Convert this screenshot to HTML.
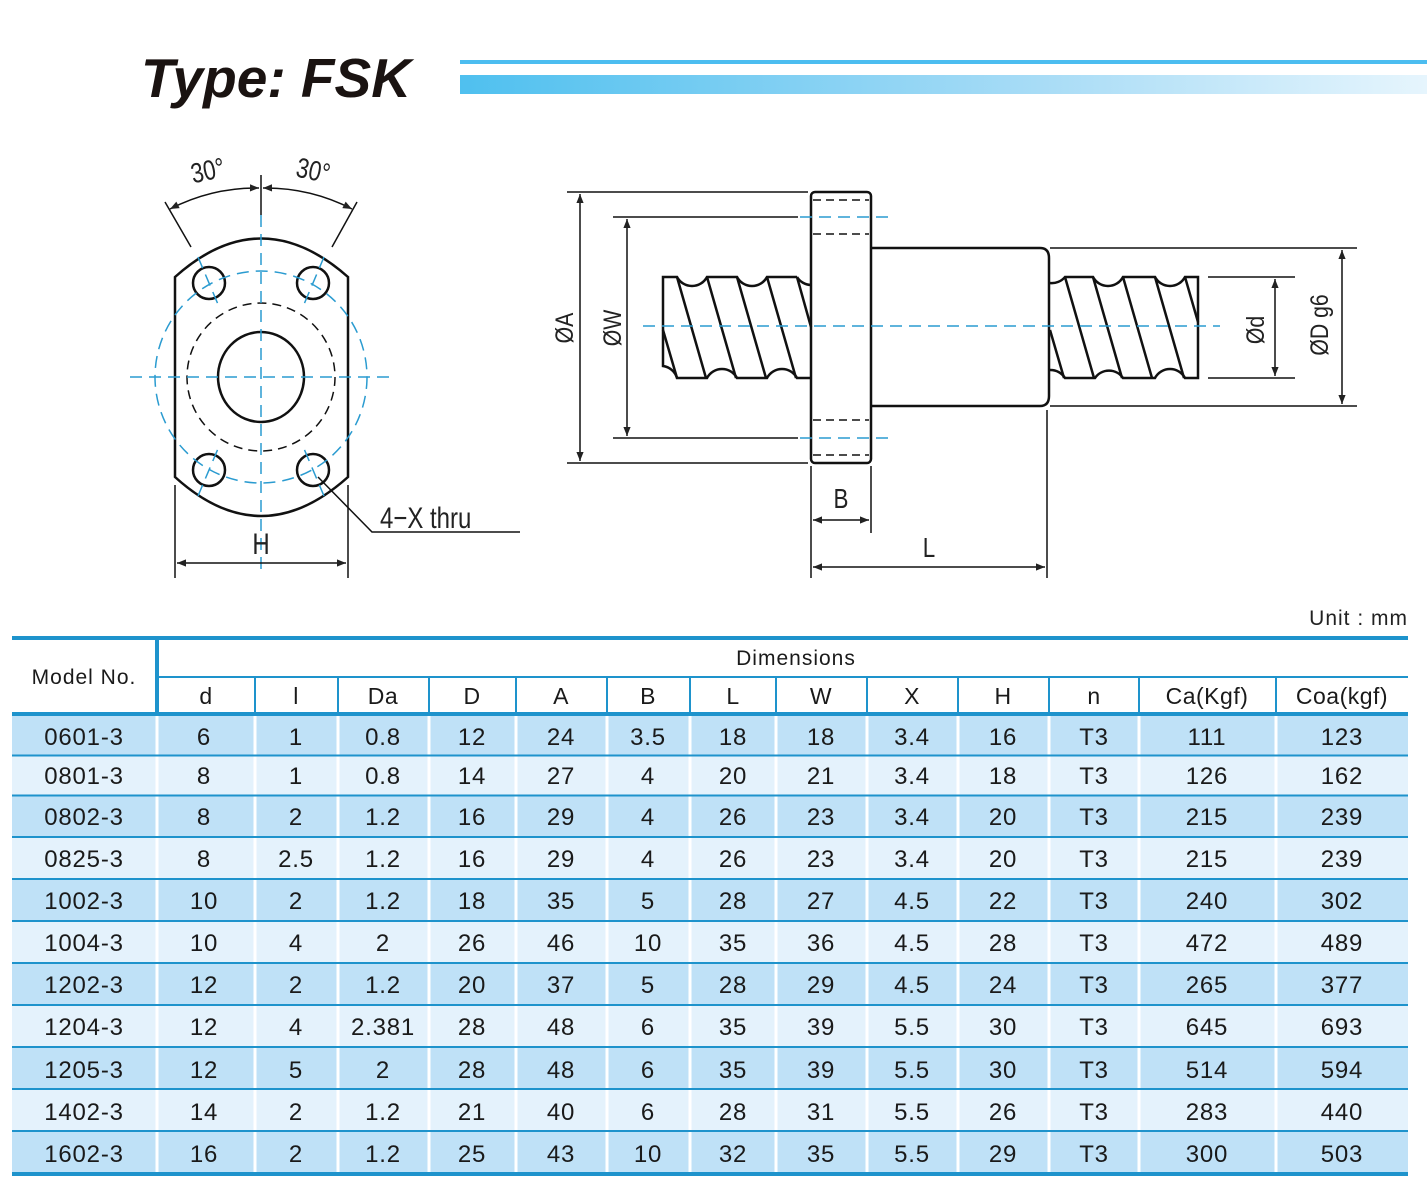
<!DOCTYPE html>
<html><head><meta charset="utf-8"><style>
html,body{margin:0;padding:0;background:#fff;}
svg{display:block;}
</style></head><body>
<svg width="1427" height="1200" viewBox="0 0 1427 1200" xmlns="http://www.w3.org/2000/svg" font-family="Liberation Sans, Arial, sans-serif">
<defs>
<linearGradient id="g" x1="0" x2="1" y1="0" y2="0"><stop offset="0" stop-color="#4fc0ef"/><stop offset="0.6" stop-color="#a8dcf6"/><stop offset="1" stop-color="#e6f5fd"/></linearGradient>
<marker id="ar" viewBox="0 0 10 10" refX="10" refY="5" markerWidth="14" markerHeight="9" markerUnits="userSpaceOnUse" orient="auto-start-reverse"><path d="M0,1 L10,5 L0,9 z" fill="#222"/></marker>
</defs>
<!-- title -->
<text x="141" y="97" font-size="55" font-weight="bold" font-style="italic" fill="#1a1311">Type: FSK</text>
<rect x="460" y="60" width="967" height="4" fill="#4cbdf0"/>
<rect x="460" y="75" width="967" height="19" fill="url(#g)"/>

<!-- LEFT VIEW -->
<g fill="none" stroke="#111" stroke-width="2.5">
<path d="M175,277 Q261,200 348,277 L348,477 Q261,555 175,477 Z"/>
<circle cx="209" cy="283" r="16"/><circle cx="313" cy="283" r="16"/>
<circle cx="209" cy="470" r="16"/><circle cx="313" cy="470" r="16"/>
<ellipse cx="261" cy="377" rx="43" ry="45"/>
</g>
<circle cx="261" cy="377" r="74" fill="none" stroke="#111" stroke-width="1.5" stroke-dasharray="9,6"/>
<g stroke="#2a9bd0" stroke-width="1.5" fill="none" stroke-dasharray="12,7">
<circle cx="261" cy="377" r="106"/>
<line x1="130" y1="377" x2="392" y2="377"/>
<line x1="261" y1="215" x2="261" y2="570"/>
<line x1="198" y1="257" x2="220" y2="309"/><line x1="324" y1="257" x2="302" y2="309"/>
<line x1="198" y1="496" x2="220" y2="444"/><line x1="324" y1="496" x2="302" y2="444"/>
</g>
<g stroke="#111" stroke-width="1.5" fill="none">
<line x1="261" y1="175" x2="261" y2="215"/>
<line x1="165" y1="202" x2="191" y2="247"/>
<line x1="357" y1="202" x2="332" y2="247"/>
<path d="M259,188 A189,189 0 0 0 170,209" marker-start="url(#ar)" marker-end="url(#ar)"/>
<path d="M263,188 A189,189 0 0 1 352,209" marker-start="url(#ar)" marker-end="url(#ar)"/>
<line x1="175" y1="485" x2="175" y2="578"/><line x1="348" y1="485" x2="348" y2="578"/>
<line x1="177" y1="563" x2="346" y2="563" marker-start="url(#ar)" marker-end="url(#ar)"/>
<polyline points="318,477 372,532 520,532"/>
</g>
<text x="208" y="180" font-size="28" fill="#222" text-anchor="middle" transform="rotate(-12 208 172) translate(208 0) scale(0.8 1) translate(-208 0)">30°</text>
<text x="313" y="180" font-size="28" fill="#222" text-anchor="middle" transform="rotate(12 313 172) translate(313 0) scale(0.8 1) translate(-313 0)">30°</text>
<text x="261" y="554" font-size="30" fill="#222" text-anchor="middle" transform="translate(261 0) scale(0.8 1) translate(-261 0)">H</text>
<text x="380" y="528" font-size="30" fill="#222" transform="translate(380 0) scale(0.8 1) translate(-380 0)">4−X thru</text>

<!-- RIGHT VIEW -->
<g stroke="#111" stroke-width="1.5" fill="none">
<line x1="567" y1="192" x2="808" y2="192"/><line x1="567" y1="463" x2="808" y2="463"/>
<line x1="580" y1="194" x2="580" y2="461" marker-start="url(#ar)" marker-end="url(#ar)"/>
<line x1="613" y1="217" x2="798" y2="217"/><line x1="613" y1="438" x2="798" y2="438"/>
<line x1="627" y1="219" x2="627" y2="436" marker-start="url(#ar)" marker-end="url(#ar)"/>
<line x1="1050" y1="248" x2="1357" y2="248"/><line x1="1050" y1="406" x2="1357" y2="406"/>
<line x1="1342" y1="250" x2="1342" y2="404" marker-start="url(#ar)" marker-end="url(#ar)"/>
<line x1="1208" y1="277" x2="1295" y2="277"/><line x1="1208" y1="378" x2="1295" y2="378"/>
<line x1="1275" y1="279" x2="1275" y2="376" marker-start="url(#ar)" marker-end="url(#ar)"/>
<line x1="811" y1="466" x2="811" y2="578"/><line x1="871" y1="466" x2="871" y2="533"/>
<line x1="813" y1="520" x2="869" y2="520" marker-start="url(#ar)" marker-end="url(#ar)"/>
<line x1="1047" y1="410" x2="1047" y2="578"/>
<line x1="813" y1="567" x2="1045" y2="567" marker-start="url(#ar)" marker-end="url(#ar)"/>
</g>
<g stroke="#111" stroke-width="2.5" fill="none">
<rect x="811" y="192" width="60" height="271" rx="4"/>
<path d="M871,248 H1040 Q1049,248 1049,258 V396 Q1049,406 1040,406 H871"/>
<!-- left screw -->
<path d="M797,277 A17,17 0 0 0 811,285"/>
<path d="M797,277 H767 A17,17 0 0 1 737,277 H707 A17,17 0 0 1 677,277 H663 V366 A17,17 0 0 1 677,378 H707 A17,17 0 0 1 737,378 H767 A17,17 0 0 1 797,378 H811"/>
<line x1="677" y1="277" x2="706" y2="378"/><line x1="707" y1="277" x2="736" y2="378"/>
<line x1="737" y1="277" x2="766" y2="378"/><line x1="767" y1="277" x2="796" y2="378"/>
<line x1="797" y1="277" x2="811" y2="327"/><line x1="663" y1="330" x2="677" y2="378"/>
<!-- right screw -->
<path d="M1050,283 A17,17 0 0 0 1065,277 H1093 A17,17 0 0 0 1123,277 H1155 A17,17 0 0 0 1185,277 H1198 V378 H1185 A17,17 0 0 0 1155,378 H1123 A17,17 0 0 0 1095,378 H1065 A17,17 0 0 0 1050,370"/>
<line x1="1065" y1="277" x2="1094" y2="378"/><line x1="1093" y1="277" x2="1122" y2="378"/>
<line x1="1123" y1="277" x2="1152" y2="378"/><line x1="1155" y1="277" x2="1184" y2="378"/>
<line x1="1185" y1="277" x2="1198" y2="322"/><line x1="1050" y1="330" x2="1064" y2="378"/>
</g>
<g stroke="#111" stroke-width="1.5" stroke-dasharray="8,5">
<line x1="813" y1="200" x2="869" y2="200"/><line x1="813" y1="234" x2="869" y2="234"/>
<line x1="813" y1="420" x2="869" y2="420"/><line x1="813" y1="455" x2="869" y2="455"/>
</g>
<g stroke="#2a9bd0" stroke-width="1.5" stroke-dasharray="12,7">
<line x1="800" y1="217" x2="888" y2="217"/><line x1="800" y1="438" x2="888" y2="438"/>
<line x1="643" y1="326" x2="1220" y2="326"/>
</g>
<g font-size="25" fill="#222" text-anchor="middle">
<text transform="translate(573 328) rotate(-90) scale(0.85 1)">ØA</text>
<text transform="translate(621 328) rotate(-90) scale(0.85 1)">ØW</text>
<text transform="translate(1264 330) rotate(-90) scale(0.85 1)">Ød</text>
<text transform="translate(1328 325) rotate(-90) scale(0.85 1)">ØD g6</text>
<text x="841" y="508" font-size="28" transform="translate(841 0) scale(0.8 1) translate(-841 0)">B</text>
<text x="929" y="557" font-size="28" transform="translate(929 0) scale(0.8 1) translate(-929 0)">L</text>
</g>

<!-- TABLE -->
<text x="1408" y="625" font-size="21" fill="#222" text-anchor="end" letter-spacing="1">Unit : mm</text>
<rect x="12" y="716" width="1396" height="39" fill="#bfe1f7"/>
<rect x="12" y="756" width="1396" height="39" fill="#e4f2fc"/>
<rect x="12" y="796" width="1396" height="40" fill="#bfe1f7"/>
<rect x="12" y="838" width="1396" height="40" fill="#e4f2fc"/>
<rect x="12" y="880" width="1396" height="40" fill="#bfe1f7"/>
<rect x="12" y="922" width="1396" height="40" fill="#e4f2fc"/>
<rect x="12" y="964" width="1396" height="40" fill="#bfe1f7"/>
<rect x="12" y="1006" width="1396" height="40" fill="#e4f2fc"/>
<rect x="12" y="1048" width="1396" height="40" fill="#bfe1f7"/>
<rect x="12" y="1090" width="1396" height="40" fill="#e4f2fc"/>
<rect x="12" y="1132" width="1396" height="40" fill="#bfe1f7"/>
<g stroke="#fff" stroke-width="3">
<line x1="157" y1="716" x2="157" y2="1172"/><line x1="255" y1="716" x2="255" y2="1172"/>
<line x1="338" y1="716" x2="338" y2="1172"/><line x1="429" y1="716" x2="429" y2="1172"/>
<line x1="516" y1="716" x2="516" y2="1172"/><line x1="607" y1="716" x2="607" y2="1172"/>
<line x1="690" y1="716" x2="690" y2="1172"/><line x1="776" y1="716" x2="776" y2="1172"/>
<line x1="867" y1="716" x2="867" y2="1172"/><line x1="958" y1="716" x2="958" y2="1172"/>
<line x1="1049" y1="716" x2="1049" y2="1172"/><line x1="1139" y1="716" x2="1139" y2="1172"/>
<line x1="1276" y1="716" x2="1276" y2="1172"/>
</g>
<g stroke="#1e93cc">
<line x1="12" y1="638" x2="1408" y2="638" stroke-width="4"/>
<line x1="157" y1="677" x2="1408" y2="677" stroke-width="2"/>
<line x1="12" y1="714" x2="1408" y2="714" stroke-width="4"/>
<line x1="157" y1="640" x2="157" y2="714" stroke-width="4"/>
<g stroke-width="2">
<line x1="255" y1="677" x2="255" y2="713"/><line x1="338" y1="677" x2="338" y2="713"/>
<line x1="429" y1="677" x2="429" y2="713"/><line x1="516" y1="677" x2="516" y2="713"/>
<line x1="607" y1="677" x2="607" y2="713"/><line x1="690" y1="677" x2="690" y2="713"/>
<line x1="776" y1="677" x2="776" y2="713"/><line x1="867" y1="677" x2="867" y2="713"/>
<line x1="958" y1="677" x2="958" y2="713"/><line x1="1049" y1="677" x2="1049" y2="713"/>
<line x1="1139" y1="677" x2="1139" y2="713"/><line x1="1276" y1="677" x2="1276" y2="713"/>
<line x1="12" y1="755.5" x2="1408" y2="755.5"/><line x1="12" y1="795.5" x2="1408" y2="795.5"/>
<line x1="12" y1="837" x2="1408" y2="837"/><line x1="12" y1="879" x2="1408" y2="879"/>
<line x1="12" y1="921" x2="1408" y2="921"/><line x1="12" y1="963" x2="1408" y2="963"/>
<line x1="12" y1="1005" x2="1408" y2="1005"/><line x1="12" y1="1047" x2="1408" y2="1047"/>
<line x1="12" y1="1089" x2="1408" y2="1089"/><line x1="12" y1="1131" x2="1408" y2="1131"/>
</g>
<line x1="12" y1="1174" x2="1408" y2="1174" stroke-width="4"/>
</g>
<g font-size="21" fill="#1a1a1a" text-anchor="middle" letter-spacing="1">
<text x="84" y="684">Model No.</text>
<text x="796" y="665">Dimensions</text>
</g>
<g font-size="23" fill="#1a1a1a" text-anchor="middle" letter-spacing="0.5">
<text y="704"><tspan x="206">d</tspan><tspan x="296">l</tspan><tspan x="383">Da</tspan><tspan x="472">D</tspan><tspan x="561">A</tspan><tspan x="648">B</tspan><tspan x="733">L</tspan><tspan x="821">W</tspan><tspan x="912">X</tspan><tspan x="1003">H</tspan><tspan x="1094">n</tspan><tspan x="1207">Ca(Kgf)</tspan><tspan x="1342">Coa(kgf)</tspan></text>
</g>
<g font-size="24" fill="#1a1a1a" text-anchor="middle" letter-spacing="0.8">
<text y="745"><tspan x="84">0601-3</tspan><tspan x="204">6</tspan><tspan x="296">1</tspan><tspan x="383">0.8</tspan><tspan x="472">12</tspan><tspan x="561">24</tspan><tspan x="648">3.5</tspan><tspan x="733">18</tspan><tspan x="821">18</tspan><tspan x="912">3.4</tspan><tspan x="1003">16</tspan><tspan x="1094">T3</tspan><tspan x="1207">111</tspan><tspan x="1342">123</tspan></text>
<text y="784"><tspan x="84">0801-3</tspan><tspan x="204">8</tspan><tspan x="296">1</tspan><tspan x="383">0.8</tspan><tspan x="472">14</tspan><tspan x="561">27</tspan><tspan x="648">4</tspan><tspan x="733">20</tspan><tspan x="821">21</tspan><tspan x="912">3.4</tspan><tspan x="1003">18</tspan><tspan x="1094">T3</tspan><tspan x="1207">126</tspan><tspan x="1342">162</tspan></text>
<text y="825"><tspan x="84">0802-3</tspan><tspan x="204">8</tspan><tspan x="296">2</tspan><tspan x="383">1.2</tspan><tspan x="472">16</tspan><tspan x="561">29</tspan><tspan x="648">4</tspan><tspan x="733">26</tspan><tspan x="821">23</tspan><tspan x="912">3.4</tspan><tspan x="1003">20</tspan><tspan x="1094">T3</tspan><tspan x="1207">215</tspan><tspan x="1342">239</tspan></text>
<text y="867"><tspan x="84">0825-3</tspan><tspan x="204">8</tspan><tspan x="296">2.5</tspan><tspan x="383">1.2</tspan><tspan x="472">16</tspan><tspan x="561">29</tspan><tspan x="648">4</tspan><tspan x="733">26</tspan><tspan x="821">23</tspan><tspan x="912">3.4</tspan><tspan x="1003">20</tspan><tspan x="1094">T3</tspan><tspan x="1207">215</tspan><tspan x="1342">239</tspan></text>
<text y="909"><tspan x="84">1002-3</tspan><tspan x="204">10</tspan><tspan x="296">2</tspan><tspan x="383">1.2</tspan><tspan x="472">18</tspan><tspan x="561">35</tspan><tspan x="648">5</tspan><tspan x="733">28</tspan><tspan x="821">27</tspan><tspan x="912">4.5</tspan><tspan x="1003">22</tspan><tspan x="1094">T3</tspan><tspan x="1207">240</tspan><tspan x="1342">302</tspan></text>
<text y="951"><tspan x="84">1004-3</tspan><tspan x="204">10</tspan><tspan x="296">4</tspan><tspan x="383">2</tspan><tspan x="472">26</tspan><tspan x="561">46</tspan><tspan x="648">10</tspan><tspan x="733">35</tspan><tspan x="821">36</tspan><tspan x="912">4.5</tspan><tspan x="1003">28</tspan><tspan x="1094">T3</tspan><tspan x="1207">472</tspan><tspan x="1342">489</tspan></text>
<text y="993"><tspan x="84">1202-3</tspan><tspan x="204">12</tspan><tspan x="296">2</tspan><tspan x="383">1.2</tspan><tspan x="472">20</tspan><tspan x="561">37</tspan><tspan x="648">5</tspan><tspan x="733">28</tspan><tspan x="821">29</tspan><tspan x="912">4.5</tspan><tspan x="1003">24</tspan><tspan x="1094">T3</tspan><tspan x="1207">265</tspan><tspan x="1342">377</tspan></text>
<text y="1035"><tspan x="84">1204-3</tspan><tspan x="204">12</tspan><tspan x="296">4</tspan><tspan x="383">2.381</tspan><tspan x="472">28</tspan><tspan x="561">48</tspan><tspan x="648">6</tspan><tspan x="733">35</tspan><tspan x="821">39</tspan><tspan x="912">5.5</tspan><tspan x="1003">30</tspan><tspan x="1094">T3</tspan><tspan x="1207">645</tspan><tspan x="1342">693</tspan></text>
<text y="1078"><tspan x="84">1205-3</tspan><tspan x="204">12</tspan><tspan x="296">5</tspan><tspan x="383">2</tspan><tspan x="472">28</tspan><tspan x="561">48</tspan><tspan x="648">6</tspan><tspan x="733">35</tspan><tspan x="821">39</tspan><tspan x="912">5.5</tspan><tspan x="1003">30</tspan><tspan x="1094">T3</tspan><tspan x="1207">514</tspan><tspan x="1342">594</tspan></text>
<text y="1120"><tspan x="84">1402-3</tspan><tspan x="204">14</tspan><tspan x="296">2</tspan><tspan x="383">1.2</tspan><tspan x="472">21</tspan><tspan x="561">40</tspan><tspan x="648">6</tspan><tspan x="733">28</tspan><tspan x="821">31</tspan><tspan x="912">5.5</tspan><tspan x="1003">26</tspan><tspan x="1094">T3</tspan><tspan x="1207">283</tspan><tspan x="1342">440</tspan></text>
<text y="1162"><tspan x="84">1602-3</tspan><tspan x="204">16</tspan><tspan x="296">2</tspan><tspan x="383">1.2</tspan><tspan x="472">25</tspan><tspan x="561">43</tspan><tspan x="648">10</tspan><tspan x="733">32</tspan><tspan x="821">35</tspan><tspan x="912">5.5</tspan><tspan x="1003">29</tspan><tspan x="1094">T3</tspan><tspan x="1207">300</tspan><tspan x="1342">503</tspan></text>
</g>
</svg>
</body></html>
